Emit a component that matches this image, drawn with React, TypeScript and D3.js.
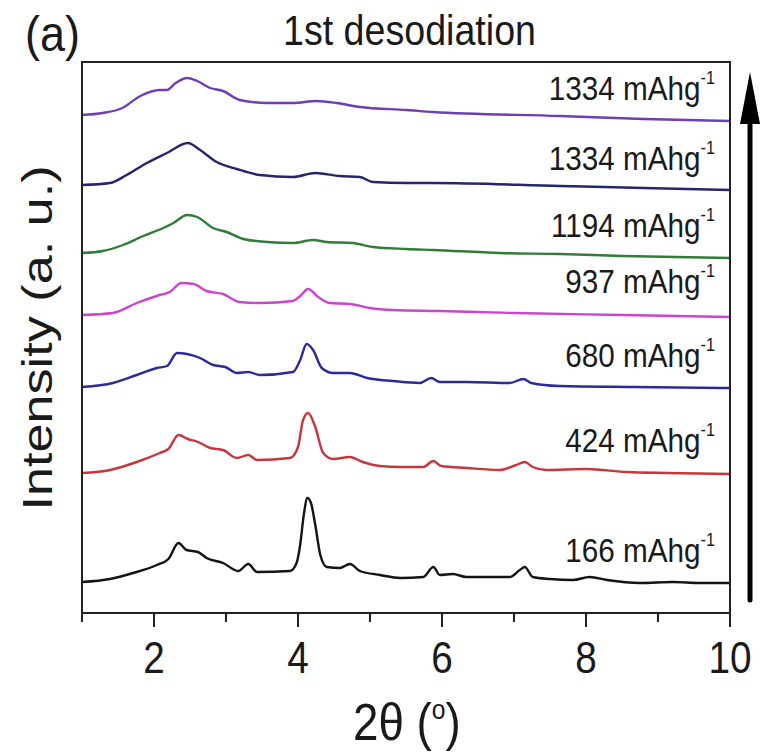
import React from "react";
import * as d3 from "d3";

// 2θ (degrees) and intensity (a.u., stacked offsets included)
const s166: [number, number][] = [
  [1.0, 31], [1.39, 34], [1.71, 40], [2.04, 48], [2.2, 54], [2.34, 70], [2.45, 63], [2.61, 61],
  [2.73, 55], [2.96, 50], [3.17, 42], [3.31, 49], [3.43, 41], [3.89, 42], [3.98, 50], [4.03, 68],
  [4.08, 98], [4.13, 115], [4.18, 110], [4.24, 88], [4.31, 58], [4.4, 46], [4.58, 45], [4.72, 49],
  [4.86, 42], [5.14, 38], [5.42, 35], [5.74, 36], [5.88, 46], [5.97, 38], [6.15, 39], [6.34, 36],
  [6.94, 36], [7.08, 43], [7.15, 46], [7.26, 36], [7.5, 34], [7.82, 33], [8.05, 36], [8.29, 33],
  [8.75, 30], [9.21, 31], [9.58, 30], [10, 30],
];
const s424: [number, number][] = [
  [1.0, 140], [1.39, 143], [1.76, 151], [2.08, 160], [2.2, 164], [2.34, 178], [2.47, 174], [2.61, 171],
  [2.78, 165], [2.96, 163], [3.15, 155], [3.31, 158], [3.43, 153], [3.89, 155], [4.0, 166], [4.07, 193],
  [4.14, 200], [4.24, 186], [4.35, 160], [4.49, 154], [4.72, 156], [4.9, 151], [5.14, 147], [5.42, 146],
  [5.74, 146], [5.88, 152], [5.99, 147], [6.34, 145], [6.8, 143], [7.03, 148], [7.15, 151], [7.26, 146],
  [7.45, 143], [8.0, 144], [8.57, 141], [9.12, 140], [10, 139],
];
const s680: [number, number][] = [
  [1.0, 226], [1.43, 230], [1.76, 238], [2.04, 245], [2.18, 247], [2.32, 260], [2.46, 259], [2.64, 255],
  [2.82, 248], [2.99, 246], [3.15, 240], [3.31, 241], [3.47, 238], [3.93, 241], [4.03, 253], [4.12, 269],
  [4.21, 263], [4.33, 245], [4.49, 240], [4.72, 240], [4.96, 235], [5.32, 232], [5.69, 230], [5.85, 235],
  [5.97, 231], [6.34, 231], [6.94, 230], [7.13, 234], [7.24, 230], [7.63, 227], [8.65, 226], [10, 225],
];
const s937: [number, number][] = [
  [1.0, 298], [1.43, 300], [1.76, 310], [2.08, 318], [2.22, 321], [2.38, 330], [2.55, 329], [2.73, 322],
  [2.96, 319], [3.19, 311], [3.47, 310], [3.93, 312], [4.03, 317], [4.14, 324], [4.28, 316], [4.44, 310],
  [4.72, 309], [5.0, 305], [5.32, 303], [5.97, 302], [7.0, 300], [8.5, 298], [10, 296],
];
const s1194: [number, number][] = [
  [1.0, 360], [1.29, 362], [1.57, 368], [1.85, 377], [2.13, 385], [2.27, 390], [2.46, 398], [2.6, 396],
  [2.82, 385], [3.01, 381], [3.24, 374], [3.57, 371], [3.93, 370], [4.21, 373], [4.4, 371], [4.76, 370],
  [5.04, 366], [5.51, 364], [5.88, 363], [6.8, 360], [7.64, 359], [8.5, 357], [10, 355],
];
const s1334a: [number, number][] = [
  [1.0, 428], [1.39, 430], [1.62, 438], [1.9, 450], [2.18, 460], [2.47, 470], [2.64, 463], [2.87, 451],
  [3.15, 444], [3.47, 438], [3.93, 436], [4.24, 440], [4.58, 437], [4.86, 436], [5.04, 431], [5.51, 430],
  [5.88, 430], [7.64, 427], [8.8, 425], [10, 423],
];
const s1334b: [number, number][] = [
  [1.0, 498], [1.29, 500], [1.56, 505], [1.81, 517], [2.08, 523], [2.18, 523], [2.3, 530], [2.46, 535],
  [2.6, 532], [2.78, 525], [2.96, 522], [3.19, 513], [3.57, 510], [3.93, 510], [4.26, 512], [4.54, 510],
  [4.86, 506], [5.51, 503], [5.88, 501], [7.64, 497], [8.8, 494], [10, 492],
];

const seriesData = [s166, s424, s680, s937, s1194, s1334a, s1334b];
const seriesColors = ["#141414", "#c8353a", "#2a2a9e", "#cc44cc", "#2f7d36", "#25256e", "#6f3db5"];
const seriesLabels = ["166", "424", "680", "937", "1194", "1334", "1334"];
const labelLevels = [51, 161, 246, 320, 376, 443, 513]; // intensity level of label baselines
const xTicksMajor = [2, 4, 6, 8, 10];
const xTicksMinor = [1, 3, 5, 7, 9];

const W = 760, H = 753;
const FONT = "'Liberation Sans', Arial, Helvetica, sans-serif";
const INK = "#1a1a1a";

export default function App() {
  const x = d3.scaleLinear().domain([1, 10]).range([82, 730]);
  const y = d3.scaleLinear().domain([0, 551]).range([613, 62]);
  const line = d3.line<[number, number]>().x(d => x(d[0])).y(d => y(d[1])).curve(d3.curveMonotoneX);
  const left = x(1), right = x(10), bottom = y(0), top = y(551);
  const frame = `M${left},${top}H${right}V${bottom}H${left}Z`;

  return (
    <svg width={W} height={H} style={{ position: "absolute", left: 0, top: 0, background: "#fff" }} fontFamily={FONT}>
      <rect x={0} y={0} width={W} height={H} fill="#fff" />
      {seriesData.map((s, i) => (
        <path key={i} d={line(s) || ""} fill="none" stroke={seriesColors[i]} strokeWidth={2.4} strokeLinejoin="round" />
      ))}
      <path d={frame} fill="none" stroke="#222" strokeWidth={2} />
      {xTicksMajor.map(t => (
        <g key={"M" + t}>
          <line x1={x(t)} x2={x(t)} y1={bottom} y2={bottom + 14} stroke="#222" strokeWidth={2} />
          <text transform={`translate(${x(t)},673) scale(0.88,1)`} textAnchor="middle" fontSize={44} fill={INK}>{t}</text>
        </g>
      ))}
      {xTicksMinor.map(t => (
        <line key={"m" + t} x1={x(t)} x2={x(t)} y1={bottom} y2={bottom + 9} stroke="#222" strokeWidth={2} />
      ))}
      {seriesLabels.map((l, i) => (
        <text key={"l" + i} transform={`translate(715,${y(labelLevels[i])}) scale(0.9,1)`} textAnchor="end" fontSize={33} fill={INK}>
          {l} mAhg<tspan dy={-16} fontSize={18}>-1</tspan>
        </text>
      ))}
      <text transform="translate(25,51) scale(0.9,1)" fontSize={50} fill={INK}>(a)</text>
      <text x={283} y={45} fontSize={42} fill={INK} textLength={253} lengthAdjust="spacingAndGlyphs">1st desodiation</text>
      <text transform="translate(353,740) scale(0.88,1)" fontSize={52} fill={INK}>
        2θ (<tspan dy={-21} fontSize={28}>o</tspan><tspan dy={21}>)</tspan>
      </text>
      <text transform="translate(52,338) rotate(-90)" textAnchor="middle" fontSize={42} fill={INK} textLength={345} lengthAdjust="spacingAndGlyphs">Intensity (a. u.)</text>
      <line x1={750} x2={750} y1={600} y2={115} stroke="#000" strokeWidth={5} strokeLinecap="round" />
      <polygon points="740,124 760,124 750,72" fill="#000" />
    </svg>
  );
}
